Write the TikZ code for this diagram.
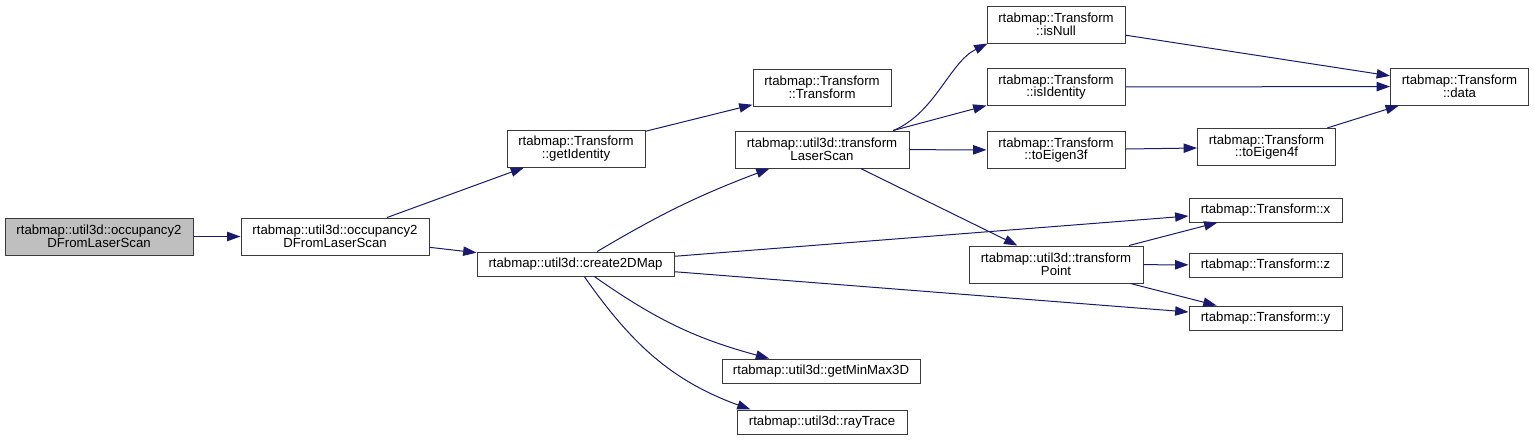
\documentclass[tikz,border=0pt]{standalone}
\usepackage{fontspec}
\setmainfont{Liberation Sans}
\usetikzlibrary{arrows.meta,calc}
\definecolor{Edge}{HTML}{191970}
\definecolor{Frame}{HTML}{3A3A3A}
\definecolor{RootGray}{HTML}{BFBFBF}

\begin{document}
\begin{tikzpicture}[
  x=0.75pt, y=-0.75pt,
  fn/.style={draw=Frame, line width=0.75pt, fill=white, align=center, inner sep=0pt, minimum height=27.75pt, font=\fontsize{9.9}{9.6}\selectfont},
  fnone/.style={fn, minimum height=18pt},
  root/.style={fn, fill=RootGray},
  arrow/.style={-{Triangle[length=10pt,width=7pt]}, line width=0.75pt, draw=Edge}
]
\useasboundingbox (0,0) rectangle (1534,440);
\node[root, minimum width=141pt] (occ0) at (99,236.5) {rtabmap::util3d::occupancy2\\DFromLaserScan};
\node[fn, minimum width=141pt] (occ1) at (335,236.5) {rtabmap::util3d::occupancy2\\DFromLaserScan};
\node[fn, minimum width=103.5pt] (getId) at (576,148.5) {rtabmap::Transform\\::getIdentity};
\node[fn, minimum width=103.5pt] (trCtor) at (822,87.5) {rtabmap::Transform\\::Transform};
\node[fnone, minimum width=147.75pt] (c2d) at (575.5,264) {rtabmap::util3d::create2DMap};
\node[fn, minimum width=130.5pt] (tLS) at (822,149.5) {rtabmap::util3d::transform\\LaserScan};
\node[fn, minimum width=103.5pt] (isNull) at (1056,24.5) {rtabmap::Transform\\::isNull};
\node[fn, minimum width=103.5pt] (isId) at (1056,87) {rtabmap::Transform\\::isIdentity};
\node[fn, minimum width=103.5pt] (toE3) at (1056,150) {rtabmap::Transform\\::toEigen3f};
\node[fn, minimum width=103.5pt] (toE4) at (1266.5,147) {rtabmap::Transform\\::toEigen4f};
\node[fn, minimum width=103.5pt] (data) at (1459.5,86.5) {rtabmap::Transform\\::data};
\node[fnone, minimum width=114.75pt] (tx) at (1265.5,210) {rtabmap::Transform::x};
\node[fn, minimum width=130.5pt] (tPt) at (1056,264.5) {rtabmap::util3d::transform\\Point};
\node[fnone, minimum width=114.75pt] (tz) at (1265.5,265) {rtabmap::Transform::z};
\node[fnone, minimum width=114.75pt] (ty) at (1265.5,318) {rtabmap::Transform::y};
\node[fnone, minimum width=148.5pt] (mm3) at (821,371) {rtabmap::util3d::getMinMax3D};
\node[fnone, minimum width=127.5pt] (ray) at (822,422) {rtabmap::util3d::rayTrace};
\draw[arrow] (occ0) -- (occ1);
\draw[arrow] (occ1) -- (getId);
\draw[arrow] (occ1) -- (c2d);
\draw[arrow] (getId) -- (trCtor);
\draw[arrow] (c2d) to[bend left=5] (tLS);
\draw[arrow] (c2d) -- (tx);
\draw[arrow] (c2d) -- (ty);
\draw[arrow] (c2d) to[bend right=10] (mm3);
\draw[arrow] (c2d) to[out=-55, in=160] ($(ray.north west)+(14,0)$);
\draw[arrow] ($(tLS.north east)+(-16,0)$) .. controls +(42,-18) and +(-38,19) .. ($(isNull.south west)+(1,0)$);
\draw[arrow] (tLS) -- (isId);
\draw[arrow] (tLS) -- (toE3);
\draw[arrow] (tLS) -- (tPt);
\draw[arrow] (isNull) -- (data);
\draw[arrow] (isId) -- (data);
\draw[arrow] (toE3) -- (toE4);
\draw[arrow] (toE4) -- (data);
\draw[arrow] (tPt) -- (tx);
\draw[arrow] (tPt) -- (tz);
\draw[arrow] (tPt) -- (ty);
\end{tikzpicture}
\end{document}
